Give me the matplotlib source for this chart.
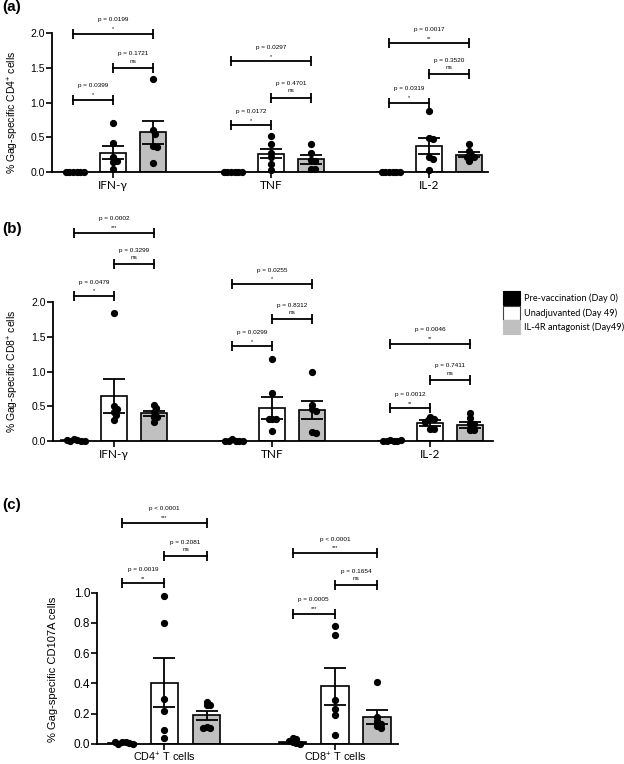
import matplotlib
matplotlib.use("Agg")
import matplotlib.pyplot as plt
from matplotlib.patches import Patch
import numpy as np

plt.rcParams['font.family'] = ['Liberation Sans', 'DejaVu Sans']
plt.rcParams['mathtext.fontset'] = 'custom'
plt.rcParams['mathtext.rm'] = 'Liberation Sans'
plt.rcParams['mathtext.it'] = 'Liberation Sans:italic'
plt.rcParams['mathtext.bf'] = 'Liberation Sans:bold'

# ---------------- data ----------------
group_names = ['Pre-vaccination (Day 0)', 'Unadjuvanted (Day 49)', 'IL-4R antagonist (Day49)']
group_colors = ['#000000', '#ffffff', '#c0c0c0']

# Panel (a): CD4+
a_categories = ['IFN-γ', 'TNF', 'IL-2']
a_pre_mean = [0.0, 0.0, 0.0]
a_pre_sem = [0.0, 0.0, 0.0]
a_pre_pts = [[0.0, 0.0, 0.005, 0.0, 0.0, 0.005],
             [0.005, 0.0, 0.0, 0.0, 0.005, 0.0],
             [0.005, 0.0, 0.0, 0.0, 0.0, 0.005]]
a_unadj_mean = [0.28, 0.265, 0.375]
a_unadj_sem = [0.095, 0.07, 0.12]
a_unadj_pts = [[0.71, 0.42, 0.22, 0.15, 0.16, 0.05],
               [0.52, 0.41, 0.28, 0.22, 0.12, 0.03],
               [0.88, 0.49, 0.47, 0.21, 0.18, 0.03]]
a_il4r_mean = [0.57, 0.18, 0.25]
a_il4r_sem = [0.17, 0.06, 0.04]
a_il4r_pts = [[1.34, 0.60, 0.55, 0.38, 0.36, 0.13],
              [0.40, 0.27, 0.17, 0.16, 0.04, 0.04],
              [0.40, 0.30, 0.25, 0.22, 0.21, 0.16]]
a_p_text = [['p = 0.0399', 'p = 0.1721', 'p = 0.0199'],
            ['p = 0.0172', 'p = 0.4701', 'p = 0.0297'],
            ['p = 0.0319', 'p = 0.3520', 'p = 0.0017']]
a_stars = [['*', 'ns', '*'], ['*', 'ns', '*'], ['*', 'ns', '**']]
a_bracket_y = [[1.04, 1.50, 1.99], [0.67, 1.07, 1.59], [1.00, 1.41, 1.85]]

# Panel (b): CD8+
b_categories = ['IFN-γ', 'TNF', 'IL-2']
b_pre_mean = [0.01, 0.005, 0.0]
b_pre_sem = [0.0, 0.0, 0.0]
b_pre_pts = [[0.03, 0.01, 0.0, 0.0, 0.01, 0.0],
             [0.03, 0.0, 0.0, 0.0, 0.0, 0.0],
             [0.01, 0.0, 0.0, 0.0, 0.0, 0.01]]
b_unadj_mean = [0.65, 0.48, 0.255]
b_unadj_sem = [0.24, 0.16, 0.045]
b_unadj_pts = [[1.84, 0.50, 0.46, 0.42, 0.37, 0.30],
               [1.18, 0.69, 0.31, 0.31, 0.31, 0.15],
               [0.35, 0.32, 0.30, 0.28, 0.17, 0.17]]
b_il4r_mean = [0.40, 0.44, 0.23]
b_il4r_sem = [0.035, 0.13, 0.05]
b_il4r_pts = [[0.52, 0.47, 0.42, 0.35, 0.34, 0.28],
              [0.99, 0.52, 0.46, 0.43, 0.13, 0.11],
              [0.41, 0.33, 0.25, 0.24, 0.16, 0.16]]
b_p_text = [['p = 0.0479', 'p = 0.3299', 'p = 0.0002'],
            ['p = 0.0299', 'p = 0.8312', 'p = 0.0255'],
            ['p = 0.0012', 'p = 0.7411', 'p = 0.0046']]
b_stars = [['*', 'ns', '***'], ['*', 'ns', '*'], ['**', 'ns', '**']]
b_bracket_y = [[2.085, 2.54, 3.0], [1.36, 1.75, 2.26], [0.47, 0.88, 1.40]]

# Panel (c): CD107A
c_categories = ['CD4$^{+}$ T cells', 'CD8$^{+}$ T cells']
c_pre_mean = [0.005, 0.015]
c_pre_sem = [0.0, 0.0]
c_pre_pts = [[0.01, 0.015, 0.0, 0.005, 0.01, 0.0],
             [0.04, 0.035, 0.02, 0.01, 0.005, 0.0]]
c_unadj_mean = [0.405, 0.38]
c_unadj_sem = [0.16, 0.12]
c_unadj_pts = [[0.98, 0.80, 0.30, 0.22, 0.09, 0.04],
               [0.78, 0.72, 0.29, 0.23, 0.19, 0.06]]
c_il4r_mean = [0.19, 0.18]
c_il4r_sem = [0.03, 0.046]
c_il4r_pts = [[0.28, 0.26, 0.255, 0.11, 0.105, 0.105],
              [0.41, 0.18, 0.15, 0.134, 0.116, 0.105]]
c_p_text = [['p = 0.0019', 'p = 0.2081', 'p < 0.0001'],
            ['p = 0.0005', 'p = 0.1654', 'p < 0.0001']]
c_stars = [['**', 'ns', '***'], ['***', 'ns', '***']]
c_bracket_y = [[1.06, 1.24, 1.46], [0.86, 1.05, 1.26]]

# ---------------- figure ----------------
W, H = 624, 764
fig = plt.figure(figsize=(W / 100, H / 100), dpi=100)


def make_ax(left, right, top, bottom):
    return fig.add_axes([left / W, 1 - bottom / H, (right - left) / W, (bottom - top) / H])


def swarm_offsets(ax, xc, vals, mind=3.6):
    placed = []
    offs = []
    p0 = ax.transData.transform((xc, 0))
    p1 = ax.transData.transform((xc + 1, 0))
    pxu = p1[0] - p0[0]
    for v in vals:
        yp = ax.transData.transform((xc, v))[1]
        cands = [0.0]
        for i in range(1, 30):
            cands += [i * mind * 0.5, -i * mind * 0.5]
        for c in cands:
            ok = True
            for (xo, yo) in placed:
                if np.hypot(c - xo, yp - yo) < mind:
                    ok = False
                    break
            if ok:
                placed.append((c, yp))
                offs.append(c / pxu)
                break
    return np.array(offs)


def draw_panel(ax, centers, means_list, sems_list, pts_list, p_text, stars, br_y,
               lims, yticks, cats, cat_font, cat_size, tick_size):
    ax.set_xlim(*lims[0])
    ax.set_ylim(*lims[1])
    for s in ['top', 'right']:
        ax.spines[s].set_visible(False)
    ax.spines['left'].set_linewidth(1.3)
    ax.spines['bottom'].set_linewidth(1.3)
    ax.spines['left'].set_bounds(0, yticks[-1])
    ax.set_yticks(yticks)
    ax.set_yticklabels(['%.1f' % t for t in yticks], fontsize=tick_size)
    ax.tick_params(axis='y', length=4, width=1.2, pad=1)
    ax.set_xticks(centers)
    ax.set_xticklabels(cats, fontsize=cat_size, family=cat_font)
    ax.tick_params(axis='x', length=4, width=1.2, pad=2)
    width = 0.65
    for g in range(3):
        for ci, xc in enumerate(centers):
            x = xc + (g - 1)
            m = means_list[g][ci]
            s = sems_list[g][ci]
            ax.bar(x, m, width=width, color=group_colors[g], edgecolor='black',
                   linewidth=1.2, zorder=2)
            if g > 0:
                ax.errorbar(x, m, yerr=s, fmt='none', ecolor='black', elinewidth=1.3,
                            capsize=8, capthick=1.3, zorder=3)
            vals = pts_list[g][ci]
            offs = swarm_offsets(ax, x, vals)
            ax.plot(x + offs, vals, 'o', color='black', ms=4.2, mec='black',
                    clip_on=False, zorder=4)
    # brackets
    pairs = [(0, 1), (1, 2), (0, 2)]
    for ci, xc in enumerate(centers):
        for k, (i, j) in enumerate(pairs):
            x1 = xc + (i - 1)
            x2 = xc + (j - 1)
            y = br_y[ci][k]
            ax.plot([x1, x2], [y, y], color='black', lw=1.3, clip_on=False, zorder=5)
            ax.plot([x1, x2], [y, y], ls='none', marker='|', ms=7, mew=1.3, color='black',
                    clip_on=False, zorder=5)
            xm = (x1 + x2) / 2
            ax.annotate(p_text[ci][k], xy=(xm, y), xytext=(0, 10), textcoords='offset points',
                        ha='center', va='center', fontsize=4.6, annotation_clip=False)
            st = stars[ci][k]
            ax.annotate(st, xy=(xm, y), xytext=(0, 4.8 if st == 'ns' else 3.8),
                        textcoords='offset points',
                        ha='center', va='center', fontsize=4.6 if st == 'ns' else 4.0,
                        annotation_clip=False)


# Panel (a)
ax_a = make_ax(52, 488, 10, 172)
draw_panel(ax_a, [0, 3.95, 7.9],
           [a_pre_mean, a_unadj_mean, a_il4r_mean],
           [a_pre_sem, a_unadj_sem, a_il4r_sem],
           [a_pre_pts, a_unadj_pts, a_il4r_pts],
           a_p_text, a_stars, a_bracket_y,
           ((-1.525, 9.375), (0, 2.331)), [0, 0.5, 1.0, 1.5, 2.0],
           a_categories, 'Lato', 8.5, 7.5)
ax_a.set_ylabel('% Gag-specific CD4$^{+}$ cells', fontsize=7.5)
ax_a.yaxis.set_label_coords(-0.072, 0.37)

# Panel (b)
ax_b = make_ax(53, 493, 200, 441)
draw_panel(ax_b, [0, 3.96, 7.91],
           [b_pre_mean, b_unadj_mean, b_il4r_mean],
           [b_pre_sem, b_unadj_sem, b_il4r_sem],
           [b_pre_pts, b_unadj_pts, b_il4r_pts],
           b_p_text, b_stars, b_bracket_y,
           ((-1.52, 9.48), (0, 3.468)), [0, 0.5, 1.0, 1.5, 2.0],
           b_categories, 'Lato', 8.5, 7.5)
ax_b.set_ylabel('% Gag-specific CD8$^{+}$ cells', fontsize=7.5)
ax_b.yaxis.set_label_coords(-0.072, 0.29)

# Panel (c)
ax_c = make_ax(97, 398, 495, 744)
draw_panel(ax_c, [0, 4.03],
           [c_pre_mean, c_unadj_mean, c_il4r_mean],
           [c_pre_sem, c_unadj_sem, c_il4r_sem],
           [c_pre_pts, c_unadj_pts, c_il4r_pts],
           c_p_text, c_stars, c_bracket_y,
           ((-1.59, 5.52), (0, 1.644)), [0, 0.2, 0.4, 0.6, 0.8, 1.0],
           c_categories, 'Liberation Sans', 7.8, 8.5)
ax_c.tick_params(axis='x', pad=0.5)
ax_c.set_ylabel('% Gag-specific CD107A cells', fontsize=8)
ax_c.yaxis.set_label_coords(-0.13, 0.30)

# panel labels
fig.text(2 / W, 1 - 7 / H, '(a)', fontsize=11, fontweight='bold', va='center', ha='left')
fig.text(2 / W, 1 - 229 / H, '(b)', fontsize=11, fontweight='bold', va='center', ha='left')
fig.text(2 / W, 1 - 505 / H, '(c)', fontsize=11, fontweight='bold', va='center', ha='left')

# legend
handles = [Patch(facecolor=c, edgecolor='#444444' if i == 1 else c, linewidth=0.8)
           for i, c in enumerate(group_colors)]
fig.legend(handles, group_names, loc='upper left', bbox_to_anchor=(503 / W, 1 - 291 / H),
           frameon=False, handlelength=1.9, handleheight=2.0,
           handletextpad=0.35, labelspacing=0.05, borderpad=0, borderaxespad=0,
           prop={'family': 'Lato', 'size': 6.6})

fig.savefig('out.png', dpi=100)
